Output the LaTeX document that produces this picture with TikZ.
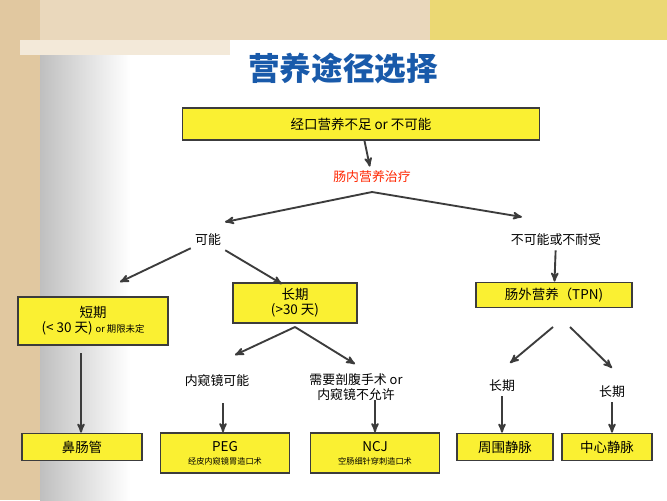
\documentclass[tikz,border=0pt]{standalone}
\usepackage{fontspec}
\setmainfont{Noto Sans CJK SC}
\usetikzlibrary{positioning}
\usetikzlibrary{arrows}
\usetikzlibrary{calc}
\definecolor{boxyellow}{RGB}{250,240,50}
\definecolor{linegray}{RGB}{60,60,60}
\definecolor{titleblue}{RGB}{25,90,170}
\definecolor{sand}{RGB}{225,200,160}
\begin{document}
\begin{tikzpicture}[x=0.03cm,y=-0.03cm,>=stealth',
                    thick,box/.style={draw=linegray,line width=1.5pt,fill=boxyellow,font=\fontsize{11.5}{13}\selectfont,align=center,inner sep=2pt},
                    lbl/.style={font=\fontsize{11}{13}\selectfont,align=center},
                    arr/.style={->,draw=linegray,line width=1.6pt}]
      \useasboundingbox (0,0) rectangle (667,500);
      % background
      \fill[white] (0,0) rectangle (667,500);
      \fill[sand] (0,0) rectangle (40,500);
      \shade[left color=black!25,right color=white] (40,40) rectangle (130,500);
      \fill[sand!70] (40,0) rectangle (667,40);
      \fill[sand!40] (20,40) rectangle (230,55);
      \fill[boxyellow!40!sand] (430,0) rectangle (667,40);

      \node[font=\bfseries\fontsize{27}{30}\selectfont,text=titleblue] (title) at (343,68) {营养途径选择};

      \node[box,minimum width=357*0.03cm,minimum height=32*0.03cm] (oral) at (361,124) {经口营养不足 or 不可能};
      \node[lbl,text=red!70!orange] (enteral) at (372,177) {肠内营养治疗};
      \node[lbl] (able) at (208,240) {可能};
      \node[lbl] (unable) at (556,240) {不可能或不耐受};

      \node[box,minimum width=150*0.03cm,minimum height=48*0.03cm] (short) at (93,321) {短期\\(< 30 天) {\footnotesize or 期限未定}};
      \node[box,minimum width=124*0.03cm,minimum height=40*0.03cm] (long) at (295,303) {长期\\(>30 天)};
      \node[box,minimum width=156*0.03cm,minimum height=25*0.03cm] (tpn) at (554,295) {肠外营养（TPN)};

      \node[lbl] (endo) at (217,381) {内窥镜可能};
      \node[lbl] (surg) at (356,387) {需要剖腹手术 or\\内窥镜不允许};
      \node[lbl] (longa) at (502,386) {长期};
      \node[lbl] (longb) at (612,392) {长期};

      \node[box,minimum width=120*0.03cm,minimum height=27*0.03cm] (nasal) at (82,447) {鼻肠管};
      \node[box,minimum width=129*0.03cm,minimum height=40*0.03cm] (peg) at (225,453) {PEG\\[-2pt]{\scriptsize 经皮内窥镜胃造口术}};
      \node[box,minimum width=129*0.03cm,minimum height=40*0.03cm] (ncj) at (375,453) {NCJ\\[-2pt]{\scriptsize 空肠细针穿刺造口术}};
      \node[box,minimum width=96*0.03cm,minimum height=27*0.03cm] (periph) at (505,447) {周围静脉};
      \node[box,minimum width=90*0.03cm,minimum height=27*0.03cm] (central) at (607,447) {中心静脉};

      \coordinate (split) at (372,192);
      \coordinate (ableL) at (120,282);
      \coordinate (ableR) at (282,284);
      \coordinate (longS) at (295,327);
      \coordinate (tpnL) at (553,327);
      \coordinate (tpnR) at (570,327);
      \coordinate (shortS) at (81,353);
      \coordinate (endoS) at (223,403);
      \coordinate (surgS) at (375,400);

      \draw[arr] (oral) -- (enteral);
      \draw[arr] (split) -- (225,222);
      \draw[arr] (split) -- (522,217);
      \draw[arr] (able) -- (ableL);
      \draw[arr] (able) -- (ableR);
      \draw[arr] (unable) -- (tpn);
      \draw[arr] (longS) -- (235,355);
      \draw[arr] (longS) -- (355,364);
      \draw[arr] (tpnL) -- (510,363);
      \draw[arr] (tpnR) -- (612,368);
      \draw[arr] (shortS) -- (shortS |- nasal.north);
      \draw[arr] (endoS) -- (endoS |- peg.north);
      \draw[arr] (surgS) -- (ncj.north);
      \draw[arr] (longa) -- (longa |- periph.north);
      \draw[arr] (longb) -- (longb |- central.north);
    \end{tikzpicture}
\end{document}
